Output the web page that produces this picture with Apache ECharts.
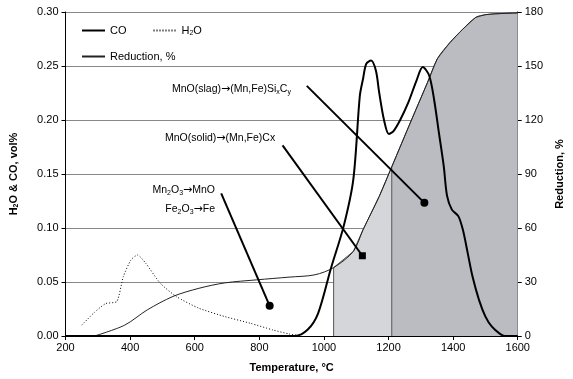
<!DOCTYPE html>
<html>
<head>
<meta charset="utf-8">
<script src="https://cdn.jsdelivr.net/npm/echarts@6/dist/echarts.min.js"></script>
<style>
  html, body { margin: 0; padding: 0; background: #fff; }
  #chart { width: 573px; height: 379px; }
</style>
</head>
<body>
<div id="chart"></div>
<script>
// CO (left axis, vol%)
const coTemp = [200, 910, 950, 982, 1022, 1061, 1091, 1111, 1121, 1131, 1146, 1161, 1171, 1186, 1201, 1216, 1236, 1261, 1286, 1306, 1326, 1341, 1356, 1371, 1381, 1396, 1416, 1430, 1445, 1460, 1480, 1500, 1520, 1545, 1560, 1600]
const coValue = [0, 0, 0.006, 0.021, 0.063, 0.1015, 0.145, 0.222, 0.238, 0.252, 0.255, 0.2455, 0.2255, 0.2, 0.187, 0.19, 0.2, 0.216, 0.236, 0.249, 0.241, 0.219, 0.188, 0.157, 0.13, 0.117, 0.111, 0.0985, 0.077, 0.055, 0.0335, 0.018, 0.0086, 0.002, 0, 0]

// H2O (left axis, vol%)
const h2oTemp = [250, 290, 324, 359, 379, 403, 423, 448, 493, 543, 613, 693, 772, 842, 892, 930]
const h2oValue = [0.010, 0.022, 0.030, 0.032, 0.055, 0.0706, 0.075, 0.0675, 0.049, 0.0365, 0.0257, 0.018, 0.0118, 0.0056, 0.0019, 0]

// Reduction (right axis, %)
const redTemp = [290, 383, 453, 533, 613, 693, 792, 892, 972, 1030, 1091, 1121, 1171, 1210, 1271, 1321, 1351, 1390, 1430, 1470, 1500, 1530, 1600]
const redValue = [0, 6, 14.5, 22, 26.5, 29.5, 31.2, 32.7, 34, 38, 47, 59, 77.5, 94, 120, 141, 154, 163, 170.5, 177, 178.5, 179, 179.5]

// shaded stages (temperature limits)
const stageLimits = [1030, 1210, 1600]
const stageColors = ['#d5d6d9', '#babcc1']

// annotations: from point, to point (data coords), end symbol
const noteFrom = [[947, 0.2316], [872, 0.1765], [682, 0.132]]
const noteTo = [[1311, 0.1233], [1119, 0.0743], [832, 0.0279]]
const noteSymbol = ['circle', 'rect', 'circle']

const FONT = 'Liberation Sans, Arial, sans-serif'

var chartDom = document.getElementById('chart')
var myChart = echarts.init(chartDom)

const pairs = (xs, ys) => xs.map((x, i) => [x, ys[i]])

// stage areas built from the reduction data
const stageSeries = []
for (let s = 0; s < stageLimits.length - 1; s++) {
    const lo = stageLimits[s], hi = stageLimits[s + 1]
    const pts = [[lo, 0]]
    redTemp.forEach((t, i) => {
        if (t >= lo && t <= hi) pts.push([t, redValue[i]])
    })
    stageSeries.push({
        type: 'line',
        yAxisIndex: 1,
        data: pts,
        symbol: 'none',
        lineStyle: { color: '#555', width: 1 },
        areaStyle: { color: stageColors[s], opacity: 1, origin: 'start' },
        z: 1,
        silent: true
    })
}

const subStyle = { fontSize: 7, fontFamily: FONT, color: '#000', padding: [5, 0, 0, 0] }
const noteRich = {
    a: { fontFamily: FONT, fontSize: 10.5, color: '#000' },
    sub: subStyle,
    arr: { fontFamily: 'DejaVu Sans', fontSize: 11, color: '#000' }
}

var option = {
    animation: false,
    backgroundColor: '#fff',
    grid: { left: 62, right: 43, top: 12, bottom: 43 },
    legend: [
        {
            data: ['CO', 'H2O'],
            left: 76, top: 20,
            itemWidth: 23, itemHeight: 12, itemGap: 26,
            itemStyle: { opacity: 0 },
            textStyle: { fontFamily: FONT, fontSize: 11, color: '#000', rich: { sub: subStyle } },
            formatter: (n) => n === 'H2O' ? 'H{sub|2}O' : n
        },
        {
            data: ['Reduction, %'],
            left: 76, top: 46,
            itemWidth: 23, itemHeight: 12,
            itemStyle: { opacity: 0 },
            textStyle: { fontFamily: FONT, fontSize: 11, color: '#000' }
        }
    ],
    xAxis: {
        type: 'value',
        min: 200, max: 1600, interval: 200,
        name: 'Temperature, °C',
        nameLocation: 'middle', nameGap: 26,
        nameTextStyle: { fontFamily: FONT, fontSize: 11, fontWeight: 'bold', color: '#000' },
        axisLine: { lineStyle: { color: '#000', width: 1 } },
        axisTick: { length: 4, lineStyle: { color: '#000' } },
        axisLabel: { fontFamily: FONT, fontSize: 11, color: '#000', margin: 6, formatter: (v) => String(v) },
        splitLine: { show: false }
    },
    yAxis: [
        {
            type: 'value',
            min: 0, max: 0.3, interval: 0.05,
            name: 'H{sub|2}O & CO, vol%',
            nameLocation: 'middle', nameGap: 46, nameRotate: 90,
            nameTextStyle: {
                fontFamily: FONT, fontSize: 11, fontWeight: 'bold', color: '#000',
                rich: { sub: { fontSize: 7, fontWeight: 'bold', fontFamily: FONT, color: '#000', padding: [5, 0, 0, 0] } }
            },
            axisLine: { show: true, lineStyle: { color: '#000' } },
            axisTick: { show: true, length: 4, lineStyle: { color: '#000' } },
            axisLabel: { fontFamily: FONT, fontSize: 11, color: '#000', margin: 7, formatter: (v) => v.toFixed(2) },
            splitLine: { show: true, lineStyle: { color: '#888', width: 1 } }
        },
        {
            type: 'value',
            min: 0, max: 180, interval: 30,
            name: 'Reduction, %',
            nameLocation: 'middle', nameGap: 32, nameRotate: 90,
            nameTextStyle: { fontFamily: FONT, fontSize: 11, fontWeight: 'bold', color: '#000' },
            axisLine: { show: true, lineStyle: { color: '#000' } },
            axisTick: { show: true, length: 4, lineStyle: { color: '#000' } },
            axisLabel: { fontFamily: FONT, fontSize: 11, color: '#000', margin: 7 },
            splitLine: { show: false }
        }
    ],
    series: [
        ...stageSeries,
        {
            name: 'Reduction, %',
            type: 'line',
            yAxisIndex: 1,
            data: pairs(redTemp, redValue),
            symbol: 'none',
            smooth: 0.3,
            lineStyle: { color: '#222', width: 1 },
            itemStyle: { color: '#222' },
            z: 3
        },
        {
            name: 'H2O',
            type: 'line',
            data: pairs(h2oTemp, h2oValue),
            symbol: 'none',
            smooth: 0.2,
            lineStyle: { color: '#000', width: 1, type: [1, 2] },
            itemStyle: { color: '#000' },
            z: 3
        },
        {
            name: 'CO',
            type: 'line',
            data: pairs(coTemp, coValue),
            symbol: 'none',
            smooth: 0.3,
            lineStyle: { color: '#000', width: 2 },
            itemStyle: { color: '#000' },
            z: 4,
            markLine: {
                silent: true,
                symbolSize: 8,
                label: { show: false },
                lineStyle: { color: '#000', width: 2, type: 'solid' },
                data: noteFrom.map((f, i) => [
                    { coord: f, symbol: 'none' },
                    {
                        coord: noteTo[i], symbol: noteSymbol[i],
                        symbolSize: noteSymbol[i] === 'rect' ? 7 : 8,
                        symbolRotate: 0
                    }
                ])
            }
        }
    ],
    graphic: [
        {
            type: 'text', left: 172, top: 84, z: 10,
            style: { text: '{a|MnO(slag)}{arr|→}{a|(Mn,Fe)Si}{sub|x}{a|C}{sub|y}', rich: noteRich }
        },
        {
            type: 'text', left: 165, top: 133, z: 10,
            style: { text: '{a|MnO(solid)}{arr|→}{a|(Mn,Fe)Cx}', rich: noteRich }
        },
        {
            type: 'text', right: 573 - 215, top: 185, z: 10,
            style: { text: '{a|Mn}{sub|2}{a|O}{sub|3}{arr|→}{a|MnO}', rich: noteRich }
        },
        {
            type: 'text', right: 573 - 215, top: 204, z: 10,
            style: { text: '{a|Fe}{sub|2}{a|O}{sub|3}{arr|→}{a|Fe}', rich: noteRich }
        }
    ]
}

myChart.setOption(option)
</script>
</body>
</html>
